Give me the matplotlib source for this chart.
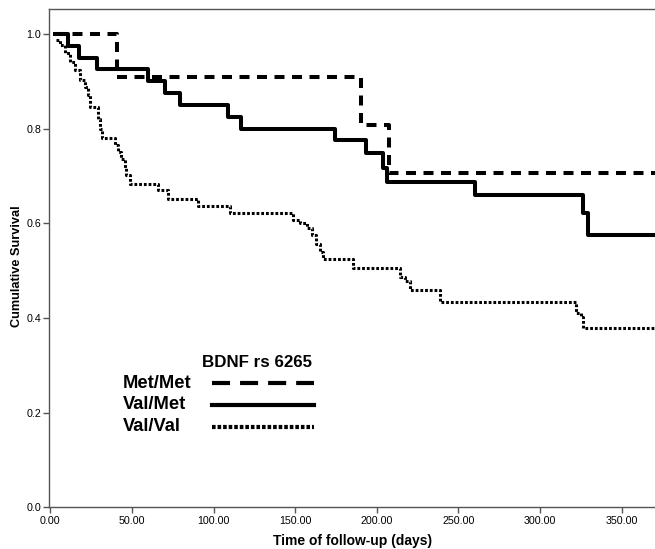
import matplotlib
matplotlib.use("Agg")
import matplotlib.pyplot as plt
from matplotlib.lines import Line2D
from matplotlib.ticker import FormatStrFormatter

plt.rcParams['font.family'] = ['Liberation Sans', 'DejaVu Sans']
plt.rcParams['lines.scale_dashes'] = False

# Kaplan-Meier curves (time in days, cumulative survival)
met_met_t = [3, 41, 190, 207.5, 372]
met_met_s = [1.0, 0.909, 0.808, 0.707, 0.707]

val_met_t = [3, 11, 17.5, 28.7, 60, 70, 79.3, 109, 116.5, 174.2, 193.6, 203.8, 206.4, 260, 326.1, 329.2, 372]
val_met_s = [1.0, 0.975, 0.95, 0.925, 0.90, 0.875, 0.85, 0.825, 0.80, 0.775, 0.748, 0.717, 0.688, 0.66, 0.621, 0.575, 0.575]

val_val_t = [3.5, 5.9, 8.9, 12.0, 15.1, 18.1, 21.2, 23.2, 24.0, 29.3, 30.3, 31.4, 39.5, 41.5, 43.5, 45.5,
             46.6, 48.7, 66.0, 72.2, 90.5, 110.0, 148.7, 152.8, 157.0, 160.0, 163.0, 165.0, 167.0, 185.4,
             214.3, 217.4, 220.3, 238.4, 322.0, 325.0, 326.0, 372]
val_val_s = [0.987, 0.977, 0.959, 0.941, 0.924, 0.903, 0.887, 0.871, 0.845, 0.82, 0.80, 0.78, 0.765, 0.75, 0.735, 0.716,
             0.702, 0.684, 0.67, 0.652, 0.636, 0.621, 0.607, 0.600, 0.589, 0.575, 0.557, 0.540, 0.524, 0.505,
             0.487, 0.478, 0.459, 0.434, 0.410, 0.402, 0.378, 0.378]

groups = ['Met/Met', 'Val/Met', 'Val/Val']
xticks = [0, 50, 100, 150, 200, 250, 300, 350]
yticks = [0.0, 0.2, 0.4, 0.6, 0.8, 1.0]

fig = plt.figure(figsize=(6.55, 5.49), dpi=100)
ax = fig.add_axes([0.0754, 0.076, 0.9246, 0.907])

ax.step(met_met_t, met_met_s, where='post', color='black', lw=2.9, dashes=(7.2, 5.4), solid_capstyle='butt')
ax.step(val_met_t, val_met_s, where='post', color='black', lw=2.9)
ax.step(val_val_t, val_val_s, where='post', color='black', lw=2.2, dashes=(2.0, 1.4))

ax.set_xlim(-0.6, 370.4)
ax.set_ylim(0, 1.052)
ax.set_xticks(xticks)
ax.set_yticks(yticks)
ax.xaxis.set_major_formatter(FormatStrFormatter('%.2f'))
ax.yaxis.set_major_formatter(FormatStrFormatter('%.1f'))
ax.tick_params(direction='out', length=4, width=1, color='#555555', labelsize=7.7, pad=2)

ax.spines['right'].set_visible(False)
for sp in ['left', 'top', 'bottom']:
    ax.spines[sp].set_color('#555555')
    ax.spines[sp].set_linewidth(1)

ax.set_xlabel('Time of follow-up (days)', fontsize=10, fontweight='bold', labelpad=6)
ax.set_ylabel('Cumulative Survival', fontsize=9.2, fontweight='bold')
ax.yaxis.set_label_coords(-0.044, 0.4845)

# key: title and labels as text, the line samples from a legend
ax.text(0.4331, 0.2823, 'BDNF rs 6265', transform=ax.transAxes, ha='right', va='baseline',
        fontsize=12.2, fontweight='bold')
for lab, yb in zip(groups, [0.239, 0.1968, 0.1538]):
    ax.text(0.1215, yb, lab, transform=ax.transAxes, ha='left', va='baseline', fontsize=13.2, fontweight='bold')

handles = [
    Line2D([], [], color='black', lw=3, dashes=(13, 7.2)),
    Line2D([], [], color='black', lw=3),
    Line2D([], [], color='black', lw=3, dashes=(2.6, 1.4)),
]
leg = ax.legend(handles, ['', '', ''], loc='center right', bbox_to_anchor=(0.4370, 0.2024),
                frameon=False, markerfirst=False, handlelength=5.9, handletextpad=0, labelspacing=0.37,
                borderpad=0, borderaxespad=0, fontsize=12.5)

fig.savefig('out.png', dpi=100)
